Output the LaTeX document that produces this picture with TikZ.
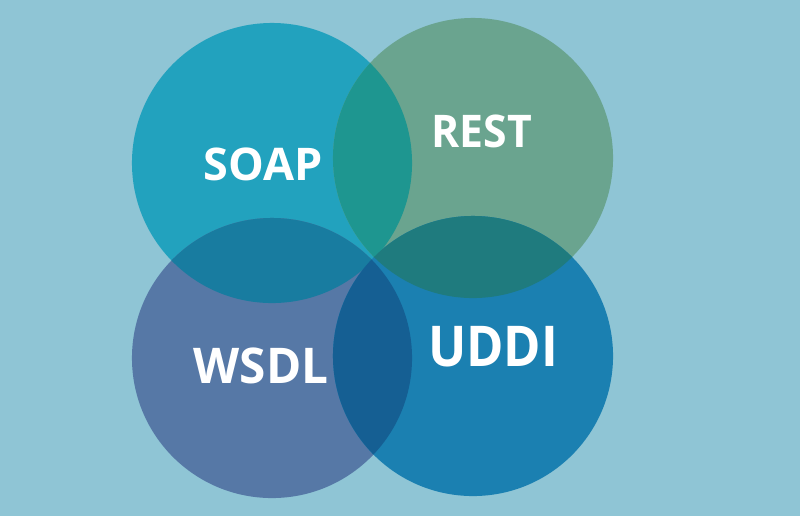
\documentclass[tikz,border=0pt]{standalone}
\usepackage{fontspec}
\setmainfont{Open Sans}
\usepackage{tikz}
\usetikzlibrary{positioning}
\definecolor{bgcol}{HTML}{8FC5D5}
\definecolor{soapcol}{HTML}{22A2BE}
\definecolor{restcol}{HTML}{6AA48F}
\definecolor{wsdlcol}{HTML}{5678A6}
\definecolor{uddicol}{HTML}{1B80B1}
\definecolor{soaprest}{HTML}{1E9690}
\definecolor{soapwsdl}{HTML}{187CA0}
\definecolor{restuddi}{HTML}{1F7B7E}
\definecolor{wsdluddi}{HTML}{155F93}
\tikzstyle{blob} = [circle, minimum size=7cm, inner sep=0pt, draw=none]
\tikzstyle{tag} = [text=white, inner sep=0pt]

\begin{document}
\begin{tikzpicture}[x=0.025cm, y=-0.025cm]

% Background
\fill[bgcol] (0,0) rectangle (800,516);

% Circles
\node (soap) [blob, fill=soapcol] at (272,163) {};
\node (rest) [blob, fill=restcol] at (473,158) {};
\node (wsdl) [blob, fill=wsdlcol] at (272,358) {};
\node (uddi) [blob, fill=uddicol] at (473,356) {};

% Overlaps
\begin{scope}
\clip (soap.center) circle (3.5cm);
\fill[soaprest] (rest.center) circle (3.5cm);
\fill[soapwsdl] (wsdl.center) circle (3.5cm);
\end{scope}
\begin{scope}
\clip (uddi.center) circle (3.5cm);
\fill[restuddi] (rest.center) circle (3.5cm);
\fill[wsdluddi] (wsdl.center) circle (3.5cm);
\end{scope}

% Labels
\node (soaplbl) [tag, font=\fontsize{32}{36}\selectfont\bfseries] at (263,164) {SOAP};
\node (restlbl) [tag, font=\fontsize{32}{36}\selectfont\bfseries, xscale=0.95, transform shape] at (482,131) {REST};
\node (wsdllbl) [tag, font=\fontsize{35}{40}\selectfont\bfseries, xscale=0.97, transform shape] at (261,366) {WSDL};
\node (uddilbl) [tag, font=\fontsize{40}{46}\selectfont\bfseries, xscale=0.9, transform shape] at (493,347) {UDDI};

\end{tikzpicture}
\end{document}
